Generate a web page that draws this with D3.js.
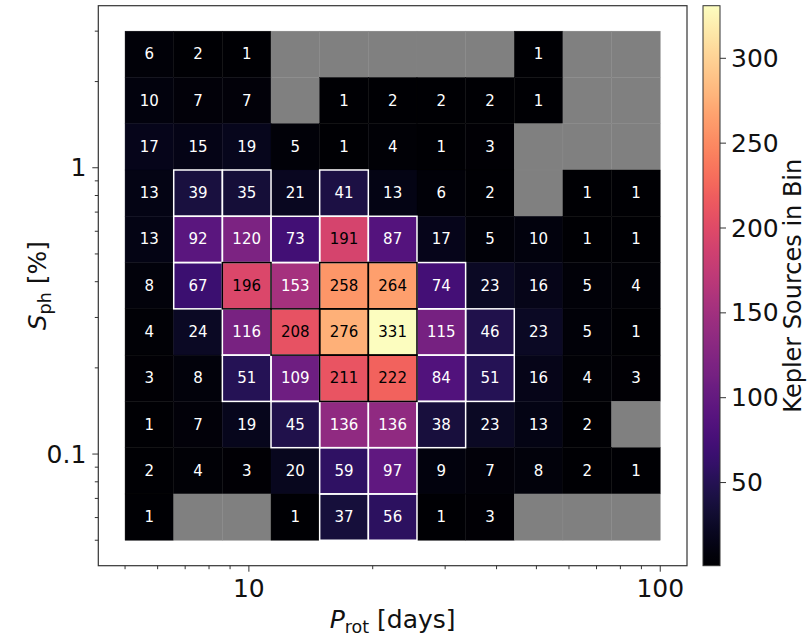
<!DOCTYPE html>
<html><head><meta charset="utf-8">
<script src="https://cdn.jsdelivr.net/npm/d3@7/dist/d3.min.js"></script>
<style>body{margin:0;background:#fff}svg{display:block;font-family:"DejaVu Sans",sans-serif}</style>
</head><body><svg id="c" width="808" height="636"></svg>
<script>
// ---- data ----
const xBinRange = [5, 100];      // P_rot bin range (days)
const yBinRange = [0.05, 3];     // S_ph bin range (%)
const nBins = 11;
// counts: rows from top (high S_ph) to bottom (low S_ph); 0 = empty bin
const counts = [
  [6, 2, 1, 0, 0, 0, 0, 0, 1, 0, 0],
  [10, 7, 7, 0, 1, 2, 2, 2, 1, 0, 0],
  [17, 15, 19, 5, 1, 4, 1, 3, 0, 0, 0],
  [13, 39, 35, 21, 41, 13, 6, 2, 0, 1, 1],
  [13, 92, 120, 73, 191, 87, 17, 5, 10, 1, 1],
  [8, 67, 196, 153, 258, 264, 74, 23, 16, 5, 4],
  [4, 24, 116, 208, 276, 331, 115, 46, 23, 5, 1],
  [3, 8, 51, 109, 211, 222, 84, 51, 16, 4, 3],
  [1, 7, 19, 45, 136, 136, 38, 23, 13, 2, 0],
  [2, 4, 3, 20, 59, 97, 9, 7, 8, 2, 1],
  [1, 0, 0, 1, 37, 56, 1, 3, 0, 0, 0]
];
const xMajor = [10, 100];
const xMinor = [5, 6, 7, 8, 9, 20, 30, 40, 50, 60, 70, 80, 90];
const yMajor = [0.1, 1];
const yMinor = [0.05, 0.06, 0.07, 0.08, 0.09, 0.2, 0.3, 0.4, 0.5, 0.6, 0.7, 0.8, 0.9, 2, 3];
const cbTicks = [50, 100, 150, 200, 250, 300];
const cRange = [1, 331];

// ---- layout ----
const ax = {l: 98.3, r: 687, t: 5.7, b: 565.7};
const cb = {l: 703, r: 720, t: 5.7, b: 565.7};
const svg = d3.select("#c");

function padLog(r){const a=Math.log10(r[0]),b=Math.log10(r[1]),m=(b-a)*0.05;return [Math.pow(10,a-m),Math.pow(10,b+m)];}
const x = d3.scaleLog().domain(padLog(xBinRange)).range([ax.l, ax.r]);
const y = d3.scaleLog().domain(padLog(yBinRange)).range([ax.b, ax.t]);
const color = d3.scaleSequential(d3.interpolateMagma).domain(cRange);

const xEdges = d3.range(nBins+1).map(i => xBinRange[0]*Math.pow(xBinRange[1]/xBinRange[0], i/nBins));
const yEdges = d3.range(nBins+1).map(i => yBinRange[0]*Math.pow(yBinRange[1]/yBinRange[0], i/nBins));

const cells = [];
counts.forEach((row, ri) => row.forEach((v, ci) => {
  const yi = nBins-1-ri;
  cells.push({v, x0:xEdges[ci], x1:xEdges[ci+1], y0:yEdges[yi], y1:yEdges[yi+1]});
}));

const g = svg.append("g");
g.selectAll("rect.cell").data(cells).join("rect").attr("class","cell")
  .attr("x", d=>x(d.x0)).attr("y", d=>y(d.y1))
  .attr("width", d=>x(d.x1)-x(d.x0)).attr("height", d=>y(d.y0)-y(d.y1))
  .attr("fill", d=> d.v===0 ? "#808080" : color(d.v))
  .attr("stroke", d=> d.v===0 ? "#848484" : color(d.v)).attr("stroke-width",0.4);
// highlighted outlines
const wh = cells.filter(d=>d.v>=30 && d.v<195), bk = cells.filter(d=>d.v>=195);
[[wh,"#ffffff"],[bk,"#000000"]].forEach(([arr,col])=>{
  g.selectAll(null).data(arr).join("rect")
    .attr("x", d=>x(d.x0)).attr("y", d=>y(d.y1))
    .attr("width", d=>x(d.x1)-x(d.x0)).attr("height", d=>y(d.y0)-y(d.y1))
    .attr("fill","none").attr("stroke",col).attr("stroke-width",1.5);
});
// annotations
g.selectAll("text.ann").data(cells.filter(d=>d.v>0)).join("text").attr("class","ann")
  .attr("x", d=>(x(d.x0)+x(d.x1))/2).attr("y", d=>(y(d.y0)+y(d.y1))/2)
  .attr("text-anchor","middle").attr("dominant-baseline","central")
  .attr("font-size",15).attr("fill", d=> d.v>165 ? "#000" : "#fff").text(d=>d.v);

// frame
svg.append("rect").attr("x",ax.l).attr("y",ax.t).attr("width",ax.r-ax.l).attr("height",ax.b-ax.t)
  .attr("fill","none").attr("stroke","#333").attr("stroke-width",1.2);

// ticks
const tk = svg.append("g").attr("stroke","#333").attr("stroke-width",1);
xMajor.forEach(v=>tk.append("line").attr("x1",x(v)).attr("x2",x(v)).attr("y1",ax.b).attr("y2",ax.b+6));
xMinor.forEach(v=>tk.append("line").attr("x1",x(v)).attr("x2",x(v)).attr("y1",ax.b).attr("y2",ax.b+3.5));
yMajor.forEach(v=>tk.append("line").attr("y1",y(v)).attr("y2",y(v)).attr("x1",ax.l).attr("x2",ax.l-6));
yMinor.forEach(v=>tk.append("line").attr("y1",y(v)).attr("y2",y(v)).attr("x1",ax.l).attr("x2",ax.l-3.5));
xMajor.forEach(v=>svg.append("text").attr("x",x(v)).attr("y",597).attr("text-anchor","middle")
  .attr("font-size",25).attr("fill","#111").text(d3.format("~g")(v)));
yMajor.forEach(v=>svg.append("text").attr("x",ax.l-12).attr("y",y(v)).attr("text-anchor","end")
  .attr("dominant-baseline","central").attr("font-size",25).attr("fill","#111").text(d3.format("~g")(v)));

// axis labels
const xl = svg.append("text").attr("x",(ax.l+ax.r)/2).attr("y",628).attr("text-anchor","middle")
  .attr("font-size",25).attr("fill","#111");
xl.append("tspan").attr("font-style","italic").text("P");
xl.append("tspan").attr("font-size",17.5).attr("dy",5).text("rot");
xl.append("tspan").attr("dy",-5).text(" [days]");
const yl = svg.append("text").attr("transform",`translate(46,${(ax.t+ax.b)/2}) rotate(-90)`)
  .attr("text-anchor","middle").attr("font-size",25).attr("fill","#111");
yl.append("tspan").attr("font-style","italic").text("S");
yl.append("tspan").attr("font-size",17.5).attr("dy",5).text("ph");
yl.append("tspan").attr("dy",-5).text(" [%]");

// colorbar
const defs = svg.append("defs");
const lg = defs.append("linearGradient").attr("id","cbg").attr("x1",0).attr("x2",0).attr("y1",1).attr("y2",0);
d3.range(0,1.0001,0.02).forEach(t=>lg.append("stop").attr("offset",t).attr("stop-color",d3.interpolateMagma(t)));
const cy = d3.scaleLinear().domain(cRange).range([cb.b, cb.t]);
svg.append("rect").attr("x",cb.l).attr("y",cb.t).attr("width",cb.r-cb.l).attr("height",cb.b-cb.t)
  .attr("fill","url(#cbg)").attr("stroke","#333").attr("stroke-width",1);
cbTicks.forEach(v=>{
  svg.append("line").attr("x1",cb.r).attr("x2",cb.r+6).attr("y1",cy(v)).attr("y2",cy(v)).attr("stroke","#333");
  svg.append("text").attr("x",cb.r+11).attr("y",cy(v)).attr("dominant-baseline","central")
    .attr("font-size",25).attr("fill","#111").text(v);
});
svg.append("text").attr("transform",`translate(793,${(cb.t+cb.b)/2}) rotate(-90)`)
  .attr("text-anchor","middle").attr("dominant-baseline","central").attr("font-size",24).attr("fill","#111")
  .text("Kepler Sources in Bin");
</script></body></html>
